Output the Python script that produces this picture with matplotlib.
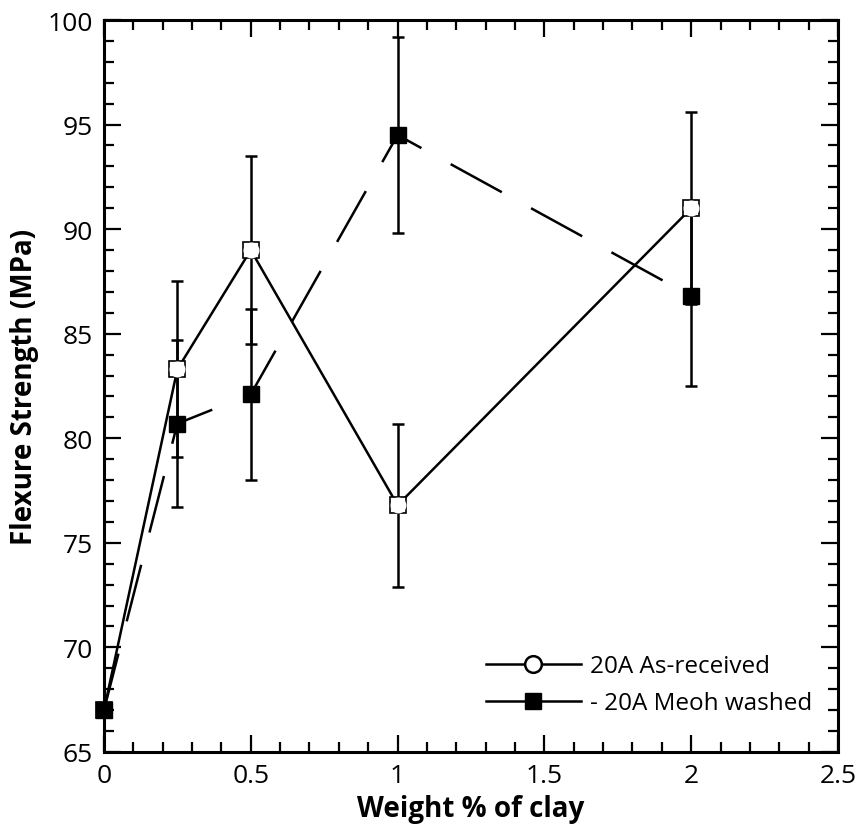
import matplotlib
matplotlib.use("Agg")
import matplotlib.pyplot as plt
from matplotlib.ticker import MultipleLocator
from matplotlib.lines import Line2D

plt.rcParams['font.family'] = ['Open Sans', 'DejaVu Sans']
plt.rcParams['lines.scale_dashes'] = False

x = [0, 0.25, 0.5, 1, 2]
as_received = [67, 83.3, 89, 76.8, 91]
as_received_err = [0, 4.2, 4.5, 3.9, 4.6]
meoh_washed = [67, 80.7, 82.1, 94.5, 86.8]
meoh_washed_err = [0, 4.0, 4.1, 4.7, 4.3]
xtick_labels = ['0', '0.5', '1', '1.5', '2', '2.5']

fig = plt.figure(figsize=(8.62, 8.37), dpi=100)
ax = fig.add_axes([0.1206, 0.1004, 0.8516, 0.8745])

lw = 1.8
ax.errorbar(x, meoh_washed, yerr=meoh_washed_err, fmt='none', ecolor='black',
            elinewidth=lw, capsize=4.5, capthick=lw, zorder=2)
ax.errorbar(x, as_received, yerr=as_received_err, fmt='none', ecolor='black',
            elinewidth=lw, capsize=4.5, capthick=lw, zorder=2)

ax.plot(x, meoh_washed, color='black', lw=lw, dashes=(42, 24), zorder=3)
ax.plot(x, as_received, color='black', lw=lw, zorder=3)

ax.plot(x, as_received, ls='none', marker='s', ms=11.5, mfc='white', mec='black', mew=1.2,
        zorder=4, clip_on=False)
ax.plot(x, as_received, ls='none', marker='o', ms=11.5, mfc='white', mec='white', mew=0,
        zorder=5, clip_on=False)
ax.plot(x, meoh_washed, ls='none', marker='s', ms=11.5, mfc='black', mec='black',
        zorder=6, clip_on=False)

ax.set_xlim(0, 2.5)
ax.set_ylim(65, 100)
ax.set_xticks([0, 0.5, 1, 1.5, 2, 2.5])
ax.set_xticklabels(xtick_labels)
ax.xaxis.set_minor_locator(MultipleLocator(0.1))
ax.yaxis.set_major_locator(MultipleLocator(5))
ax.yaxis.set_minor_locator(MultipleLocator(1))
ax.tick_params(which='both', direction='in', top=True, right=True, width=1.6)
ax.tick_params(which='major', length=12, labelsize=19, pad=8)
ax.tick_params(which='minor', length=7)
for s in ax.spines.values():
    s.set_linewidth(2.2)

ax.set_xlabel('Weight % of clay', fontsize=20, fontweight='bold', labelpad=4)
ax.set_ylabel('Flexure Strength (MPa)', fontsize=20, fontweight='bold', labelpad=6)

h1 = Line2D([], [], color='black', lw=lw, marker='o', ms=12, mfc='white', mec='black', mew=1.8)
h2 = Line2D([], [], color='black', lw=lw, marker='s', ms=12, mfc='black', mec='black')
ax.legend([h1, h2], ['20A As-received', '- 20A Meoh washed'], loc='lower right',
          bbox_to_anchor=(0.995, 0.02), frameon=False, fontsize=17.5,
          handlelength=3.9, handletextpad=0.4, labelspacing=0.55)

fig.savefig('out.png', dpi=100)
